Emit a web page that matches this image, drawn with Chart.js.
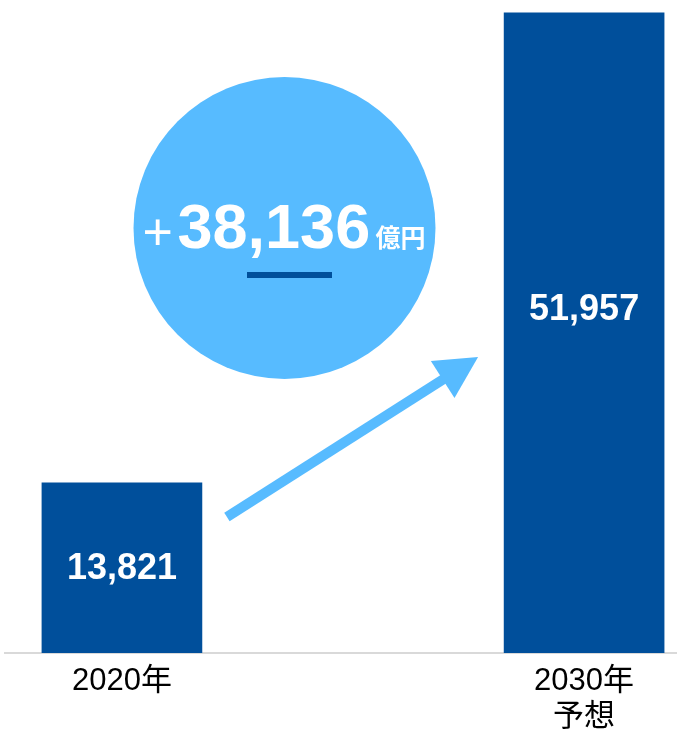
<!DOCTYPE html>
<html lang="ja">
<head>
  <meta charset="UTF-8" />
  <title>2020年 / 2030年予想</title>
  <script src="https://cdn.jsdelivr.net/npm/chart.js"></script>
  <style>
    body {
      margin: 0;
      background: #fff;
    }
    .chart-box {
      width: 677px;
      height: 732px;
    }
  </style>
</head>
<body>
  <div class="chart-box">
    <canvas id="marketChart"></canvas>
  </div>

  <script>
    // data
    const categories = [['2020年'], ['2030年', '予想']];
    const values = [13821, 51957];
    const unit = '億円';

    const barColor = '#004F9B';
    const lightBlue = '#57BBFF';
    const fontFamily = '"Liberation Sans", Arial, "Noto Sans CJK JP", sans-serif';

    const fmt = (n) => n.toLocaleString('en-US');

    // value labels inside bars + growth bubble and arrow
    const overlay = {
      id: 'overlay',
      afterDatasetsDraw(chart) {
        const ctx = chart.ctx;
        const meta = chart.getDatasetMeta(0);
        const labelPos = [0.51, 0.465];

        ctx.save();
        ctx.fillStyle = '#fff';
        ctx.font = 'bold 36px ' + fontFamily;
        ctx.textAlign = 'center';
        ctx.textBaseline = 'middle';
        meta.data.forEach((bar, i) => {
          const y = bar.y + (bar.base - bar.y) * labelPos[i];
          ctx.fillText(fmt(values[i]), bar.x, y);
        });

        // arrow between the bars
        const b0 = meta.data[0], b1 = meta.data[1];
        const x0 = b0.x + 105, y0 = 517;
        const x1 = b1.x - 106, y1 = 357;
        const ang = Math.atan2(y1 - y0, x1 - x0);
        const headLen = 42, headW = 22;
        const bx = x1 - headLen * Math.cos(ang), by = y1 - headLen * Math.sin(ang);
        ctx.strokeStyle = lightBlue;
        ctx.lineWidth = 10;
        ctx.beginPath();
        ctx.moveTo(x0, y0);
        ctx.lineTo(bx + 4 * Math.cos(ang), by + 4 * Math.sin(ang));
        ctx.stroke();
        ctx.fillStyle = lightBlue;
        ctx.beginPath();
        ctx.moveTo(x1, y1);
        ctx.lineTo(bx + headW * Math.sin(ang), by - headW * Math.cos(ang));
        ctx.lineTo(bx - headW * Math.sin(ang), by + headW * Math.cos(ang));
        ctx.closePath();
        ctx.fill();

        // growth bubble
        const cx = 284.5, cy = 228, r = 151;
        ctx.beginPath();
        ctx.arc(cx, cy, r, 0, Math.PI * 2);
        ctx.fill();

        ctx.fillStyle = '#fff';
        ctx.textAlign = 'left';
        ctx.textBaseline = 'alphabetic';
        ctx.font = '52px ' + fontFamily;
        ctx.fillText('+', cx - 142, cy + 22);
        ctx.font = 'bold 63px ' + fontFamily;
        ctx.fillText(fmt(values[1] - values[0]), cx - 107, cy + 20);
        ctx.font = 'bold 25px "Noto Sans CJK JP", sans-serif';
        ctx.fillText(unit, cx + 91, cy + 19);

        ctx.fillStyle = barColor;
        ctx.fillRect(cx - 37.5, cy + 44, 85, 6);
        ctx.restore();
      }
    };

    new Chart(document.getElementById('marketChart'), {
      type: 'bar',
      data: {
        datasets: [{
          data: values.map((v, i) => ({ x: i, y: v })),
          backgroundColor: barColor,
          barThickness: 160
        }]
      },
      options: {
        responsive: true,
        maintainAspectRatio: false,
        animation: false,
        layout: { padding: { left: 5, right: 0, top: 0, bottom: 0 } },
        plugins: {
          legend: { display: false },
          tooltip: { enabled: false }
        },
        scales: {
          x: {
            type: 'linear',
            offset: false,
            min: -0.253,
            max: 1.201,
            afterBuildTicks: (s) => { s.ticks = [{ value: 0 }, { value: 1 }]; },
            afterFit: (s) => { s.height = 79; },
            grid: { display: false, drawTicks: false },
            border: { display: true, color: '#D9D9D9', width: 2 },
            ticks: {
              padding: 11,
              color: '#000',
              font: { family: fontFamily, size: 31, lineHeight: 1.15 },
              maxRotation: 0,
              autoSkip: false,
              callback: (v) => categories[v] || ''
            }
          },
          y: {
            display: false,
            min: 0,
            max: 53000
          }
        }
      },
      plugins: [overlay]
    });
  </script>
</body>
</html>
